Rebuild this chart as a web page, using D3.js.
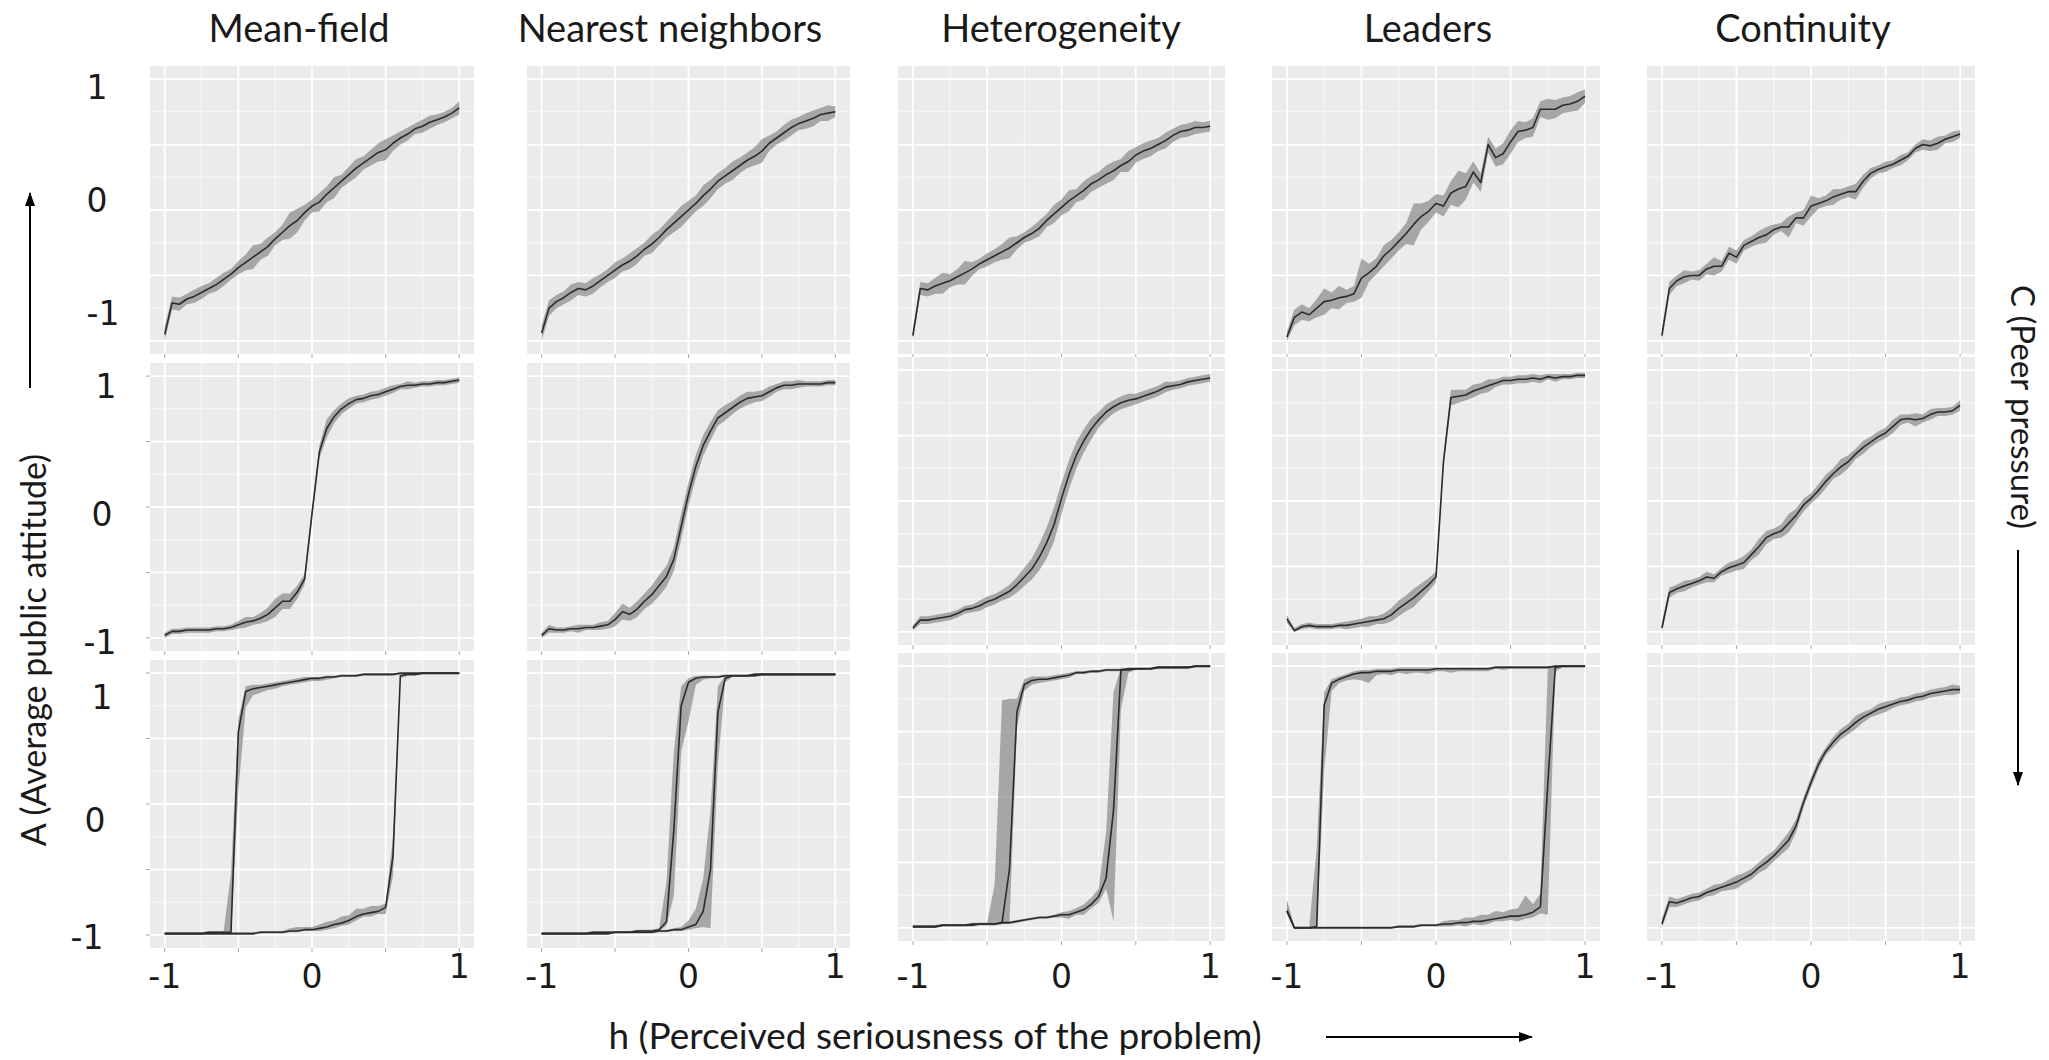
<!DOCTYPE html>
<html>
<head>
<meta charset="utf-8">
<script src="https://cdn.jsdelivr.net/npm/d3@7"></script>
<style>
  body { margin: 0; background: #fff; }
  text { font-family: Lato, "Open Sans", sans-serif; fill: #1a1a1a; }
  text.num { font-family: "DejaVu Sans", sans-serif; }
</style>
</head>
<body>
<div id="chart"></div>
<script>
// column titles (interaction models) and tick labels
var models = ["Mean-field", "Nearest neighbors", "Heterogeneity", "Leaders", "Continuity"];
var yTickLabels = ["1", "0", "-1"];
var xTickValues = [-1, 0, 1];

// h values of the sweep
var hGrid = [-1, -0.95, -0.9, -0.85, -0.8, -0.75, -0.7, -0.65, -0.6, -0.55,
  -0.5, -0.45, -0.4, -0.35, -0.3, -0.25, -0.2, -0.15, -0.1, -0.05,
  0, 0.05, 0.1, 0.15, 0.2, 0.25, 0.3, 0.35, 0.4, 0.45,
  0.5, 0.55, 0.6, 0.65, 0.7, 0.75, 0.8, 0.85, 0.9, 0.95, 1];

// ---- row 1: low peer pressure (mean A and half-width of the band)
var mf1 = [-0.95, -0.71, -0.72, -0.68, -0.66, -0.63, -0.60, -0.57, -0.53, -0.49,
  -0.44, -0.40, -0.36, -0.32, -0.28, -0.22, -0.17, -0.12, -0.08, -0.02,
  0.03, 0.06, 0.12, 0.17, 0.22, 0.27, 0.32, 0.36, 0.40, 0.44,
  0.46, 0.51, 0.55, 0.58, 0.62, 0.64, 0.67, 0.69, 0.71, 0.74, 0.78];
var mf1Band = [0.06, 0.05, 0.05, 0.04, 0.05, 0.05, 0.04, 0.05, 0.05, 0.04,
  0.05, 0.06, 0.09, 0.06, 0.07, 0.05, 0.06, 0.10, 0.09, 0.06,
  0.05, 0.07, 0.06, 0.08, 0.05, 0.06, 0.07, 0.05, 0.06, 0.07,
  0.08, 0.06, 0.05, 0.05, 0.04, 0.05, 0.05, 0.04, 0.04, 0.04, 0.05];

var nn1 = [-0.94, -0.75, -0.70, -0.67, -0.63, -0.60, -0.61, -0.58, -0.54, -0.50,
  -0.46, -0.42, -0.39, -0.35, -0.30, -0.26, -0.21, -0.15, -0.10, -0.05,
  0.00, 0.05, 0.11, 0.16, 0.22, 0.26, 0.30, 0.34, 0.38, 0.41,
  0.45, 0.51, 0.55, 0.59, 0.63, 0.66, 0.68, 0.70, 0.73, 0.74, 0.75];
var nn1Band = [0.06, 0.06, 0.05, 0.05, 0.06, 0.05, 0.05, 0.06, 0.05, 0.05,
  0.06, 0.05, 0.06, 0.06, 0.05, 0.07, 0.06, 0.06, 0.07, 0.08,
  0.07, 0.06, 0.08, 0.07, 0.06, 0.06, 0.07, 0.06, 0.06, 0.07,
  0.09, 0.06, 0.05, 0.06, 0.06, 0.05, 0.06, 0.06, 0.05, 0.06, 0.04];

var het1 = [-0.96, -0.60, -0.61, -0.58, -0.56, -0.54, -0.51, -0.48, -0.45, -0.41,
  -0.38, -0.35, -0.32, -0.29, -0.25, -0.21, -0.18, -0.14, -0.08, -0.03,
  0.02, 0.07, 0.11, 0.15, 0.20, 0.23, 0.27, 0.30, 0.34, 0.37,
  0.42, 0.45, 0.47, 0.50, 0.53, 0.57, 0.60, 0.61, 0.63, 0.63, 0.64];
var het1Band = [0.05, 0.05, 0.05, 0.06, 0.08, 0.05, 0.06, 0.09, 0.05, 0.04,
  0.05, 0.05, 0.06, 0.08, 0.05, 0.04, 0.05, 0.06, 0.05, 0.07,
  0.06, 0.08, 0.05, 0.07, 0.06, 0.06, 0.07, 0.07, 0.05, 0.08,
  0.06, 0.06, 0.06, 0.05, 0.06, 0.05, 0.05, 0.05, 0.05, 0.04, 0.04];

var lead1 = [-0.97, -0.82, -0.78, -0.80, -0.75, -0.70, -0.69, -0.67, -0.66, -0.64,
  -0.52, -0.48, -0.43, -0.35, -0.30, -0.24, -0.18, -0.11, -0.05, -0.01,
  0.05, 0.03, 0.13, 0.16, 0.18, 0.29, 0.21, 0.50, 0.40, 0.43,
  0.52, 0.60, 0.61, 0.63, 0.77, 0.77, 0.77, 0.80, 0.81, 0.83, 0.87];
var lead1Band = [0.04, 0.06, 0.06, 0.05, 0.07, 0.10, 0.06, 0.09, 0.05, 0.06,
  0.15, 0.07, 0.06, 0.08, 0.07, 0.07, 0.08, 0.16, 0.10, 0.08,
  0.07, 0.08, 0.09, 0.14, 0.10, 0.08, 0.07, 0.06, 0.07, 0.08,
  0.09, 0.08, 0.06, 0.07, 0.06, 0.08, 0.07, 0.06, 0.06, 0.07, 0.05];

var cont1 = [-0.96, -0.60, -0.54, -0.51, -0.50, -0.50, -0.45, -0.43, -0.43, -0.33,
  -0.36, -0.27, -0.24, -0.21, -0.19, -0.15, -0.13, -0.13, -0.06, -0.06,
  0.03, 0.05, 0.07, 0.10, 0.12, 0.14, 0.14, 0.22, 0.28, 0.31,
  0.33, 0.35, 0.38, 0.41, 0.47, 0.50, 0.49, 0.51, 0.54, 0.56, 0.58];
var cont1Band = [0.05, 0.05, 0.04, 0.05, 0.03, 0.04, 0.04, 0.07, 0.04, 0.05,
  0.05, 0.04, 0.04, 0.05, 0.06, 0.04, 0.03, 0.08, 0.04, 0.06,
  0.08, 0.04, 0.04, 0.06, 0.04, 0.04, 0.06, 0.05, 0.04, 0.03,
  0.04, 0.03, 0.04, 0.03, 0.03, 0.04, 0.04, 0.05, 0.03, 0.04, 0.03];

// ---- row 2: medium peer pressure
var mf2 = [-0.98, -0.95, -0.95, -0.94, -0.94, -0.94, -0.94, -0.93, -0.93, -0.92,
  -0.90, -0.88, -0.87, -0.85, -0.82, -0.77, -0.72, -0.72, -0.65, -0.55,
  -0.05, 0.42, 0.60, 0.69, 0.75, 0.79, 0.82, 0.83, 0.85, 0.86,
  0.88, 0.90, 0.92, 0.93, 0.93, 0.94, 0.94, 0.95, 0.95, 0.96, 0.97];
var mf2Band = [0.02, 0.02, 0.02, 0.02, 0.02, 0.02, 0.02, 0.02, 0.02, 0.02,
  0.03, 0.04, 0.03, 0.04, 0.05, 0.07, 0.06, 0.06, 0.05, 0.04,
  0.04, 0.05, 0.07, 0.05, 0.04, 0.04, 0.03, 0.03, 0.03, 0.03,
  0.03, 0.03, 0.02, 0.03, 0.02, 0.02, 0.02, 0.02, 0.02, 0.02, 0.02];

var nn2 = [-0.98, -0.93, -0.94, -0.94, -0.93, -0.93, -0.92, -0.92, -0.91, -0.90,
  -0.86, -0.80, -0.82, -0.78, -0.72, -0.67, -0.60, -0.53, -0.40, -0.15,
  0.10, 0.31, 0.47, 0.58, 0.68, 0.72, 0.76, 0.80, 0.83, 0.84,
  0.85, 0.88, 0.91, 0.93, 0.93, 0.94, 0.94, 0.94, 0.94, 0.95, 0.95];
var nn2Band = [0.02, 0.03, 0.02, 0.02, 0.02, 0.03, 0.02, 0.02, 0.03, 0.03,
  0.05, 0.06, 0.05, 0.06, 0.06, 0.07, 0.08, 0.08, 0.09, 0.10,
  0.09, 0.09, 0.08, 0.07, 0.06, 0.06, 0.05, 0.05, 0.05, 0.04,
  0.04, 0.04, 0.03, 0.03, 0.03, 0.03, 0.02, 0.02, 0.02, 0.02, 0.02];

var het2 = [-0.97, -0.91, -0.91, -0.90, -0.89, -0.88, -0.86, -0.83, -0.82, -0.80,
  -0.77, -0.75, -0.72, -0.69, -0.64, -0.58, -0.52, -0.43, -0.32, -0.18,
  0.02, 0.20, 0.35, 0.46, 0.55, 0.62, 0.68, 0.72, 0.75, 0.77,
  0.78, 0.80, 0.82, 0.84, 0.87, 0.88, 0.89, 0.91, 0.92, 0.93, 0.94];
var het2Band = [0.02, 0.03, 0.03, 0.03, 0.03, 0.03, 0.03, 0.03, 0.03, 0.04,
  0.04, 0.04, 0.04, 0.05, 0.06, 0.07, 0.08, 0.10, 0.12, 0.13,
  0.12, 0.11, 0.10, 0.09, 0.08, 0.06, 0.06, 0.05, 0.05, 0.05,
  0.04, 0.04, 0.04, 0.04, 0.04, 0.03, 0.03, 0.03, 0.03, 0.03, 0.03];

var lead2 = [-0.90, -0.99, -0.96, -0.95, -0.96, -0.96, -0.96, -0.95, -0.95, -0.94,
  -0.93, -0.92, -0.91, -0.90, -0.87, -0.82, -0.78, -0.74, -0.69, -0.64,
  -0.58, 0.30, 0.79, 0.80, 0.81, 0.84, 0.86, 0.88, 0.90, 0.92,
  0.92, 0.93, 0.93, 0.94, 0.93, 0.95, 0.94, 0.95, 0.95, 0.96, 0.96];
var lead2Band = [0.03, 0.02, 0.02, 0.02, 0.02, 0.02, 0.02, 0.02, 0.03, 0.03,
  0.03, 0.04, 0.03, 0.04, 0.05, 0.06, 0.06, 0.07, 0.06, 0.05,
  0.04, 0.05, 0.06, 0.05, 0.04, 0.05, 0.04, 0.05, 0.03, 0.03,
  0.03, 0.03, 0.03, 0.03, 0.03, 0.02, 0.03, 0.02, 0.02, 0.02, 0.02];

var cont2 = [-0.97, -0.70, -0.67, -0.65, -0.63, -0.61, -0.58, -0.59, -0.54, -0.51,
  -0.49, -0.47, -0.41, -0.35, -0.28, -0.25, -0.23, -0.17, -0.11, -0.03,
  0.02, 0.08, 0.15, 0.21, 0.26, 0.30, 0.36, 0.41, 0.45, 0.49,
  0.52, 0.57, 0.62, 0.63, 0.62, 0.63, 0.66, 0.68, 0.68, 0.69, 0.73];
var cont2Band = [0.04, 0.04, 0.03, 0.04, 0.03, 0.03, 0.04, 0.03, 0.03, 0.04,
  0.04, 0.05, 0.04, 0.06, 0.05, 0.04, 0.05, 0.07, 0.05, 0.05,
  0.04, 0.05, 0.05, 0.04, 0.06, 0.05, 0.04, 0.05, 0.04, 0.04,
  0.04, 0.05, 0.04, 0.03, 0.05, 0.03, 0.04, 0.03, 0.03, 0.03, 0.04];

// ---- row 3: high peer pressure, forward (lower) and backward (upper) sweeps
// band below (Lo) and above (Hi) the mean
var mf3Lower = [-0.99, -0.99, -0.99, -0.99, -0.99, -0.99, -0.99, -0.99, -0.99, -0.99,
  -0.99, -0.99, -0.99, -0.98, -0.98, -0.98, -0.98, -0.97, -0.97, -0.96,
  -0.96, -0.95, -0.94, -0.92, -0.91, -0.89, -0.86, -0.84, -0.83, -0.82,
  -0.79, -0.40, 0.98, 0.99, 0.99, 1.00, 1.00, 1.00, 1.00, 1.00, 1.00];
var mf3LowerLo = [0.01, 0.01, 0.01, 0.01, 0.01, 0.01, 0.01, 0.01, 0.01, 0.01,
  0.01, 0.01, 0.01, 0.01, 0.01, 0.01, 0.01, 0.01, 0.01, 0.01,
  0.01, 0.02, 0.02, 0.03, 0.02, 0.03, 0.03, 0.02, 0.03, 0.02,
  0.05, 0.15, 0.02, 0.01, 0.01, 0.01, 0.01, 0.01, 0.01, 0.01, 0.01];
var mf3LowerHi = [0.01, 0.01, 0.01, 0.01, 0.01, 0.01, 0.01, 0.01, 0.01, 0.01,
  0.01, 0.01, 0.01, 0.01, 0.01, 0.01, 0.01, 0.02, 0.03, 0.02,
  0.02, 0.03, 0.04, 0.03, 0.05, 0.04, 0.06, 0.04, 0.05, 0.04,
  0.03, 0.15, 0.01, 0.01, 0.01, 0.01, 0.01, 0.01, 0.01, 0.01, 0.01];
var mf3Upper = [-0.99, -0.99, -0.99, -0.99, -0.99, -0.99, -0.98, -0.98, -0.98, -0.98,
  0.55, 0.86, 0.88, 0.89, 0.90, 0.91, 0.92, 0.93, 0.94, 0.95,
  0.96, 0.96, 0.97, 0.97, 0.98, 0.98, 0.98, 0.99, 0.99, 0.99,
  0.99, 0.99, 1.00, 1.00, 1.00, 1.00, 1.00, 1.00, 1.00, 1.00, 1.00];
var mf3UpperLo = [0.01, 0.01, 0.01, 0.01, 0.01, 0.01, 0.01, 0.01, 0.01, 0.01,
  0.45, 0.12, 0.05, 0.04, 0.03, 0.03, 0.02, 0.02, 0.02, 0.02,
  0.02, 0.02, 0.02, 0.01, 0.01, 0.01, 0.01, 0.01, 0.01, 0.01,
  0.01, 0.01, 0.01, 0.01, 0.01, 0.01, 0.01, 0.01, 0.01, 0.01, 0.01];
var mf3UpperHi = [0.01, 0.01, 0.01, 0.01, 0.01, 0.01, 0.01, 0.01, 0.01, 0.45,
  0.10, 0.04, 0.03, 0.02, 0.02, 0.02, 0.02, 0.02, 0.02, 0.02,
  0.01, 0.01, 0.01, 0.01, 0.01, 0.01, 0.01, 0.01, 0.01, 0.01,
  0.01, 0.01, 0.01, 0.01, 0.01, 0.01, 0.01, 0.01, 0.01, 0.01, 0.01];

var nn3Lower = [-0.99, -0.99, -0.99, -0.99, -0.99, -0.99, -0.99, -0.99, -0.99, -0.99,
  -0.98, -0.98, -0.98, -0.98, -0.98, -0.98, -0.97, -0.97, -0.96, -0.96,
  -0.94, -0.92, -0.82, -0.50, 0.70, 0.96, 0.98, 0.98, 0.98, 0.99,
  0.99, 0.99, 0.99, 0.99, 0.99, 0.99, 0.99, 0.99, 0.99, 0.99, 0.99];
var nn3LowerLo = [0.01, 0.01, 0.01, 0.01, 0.01, 0.01, 0.01, 0.01, 0.01, 0.01,
  0.01, 0.01, 0.01, 0.01, 0.01, 0.01, 0.01, 0.01, 0.01, 0.01,
  0.02, 0.03, 0.12, 0.45, 0.40, 0.03, 0.01, 0.01, 0.01, 0.01,
  0.01, 0.01, 0.01, 0.01, 0.01, 0.01, 0.01, 0.01, 0.01, 0.01, 0.01];
var nn3LowerHi = [0.01, 0.01, 0.01, 0.01, 0.01, 0.01, 0.01, 0.01, 0.01, 0.01,
  0.01, 0.01, 0.01, 0.01, 0.01, 0.01, 0.01, 0.01, 0.01, 0.02,
  0.05, 0.12, 0.25, 0.45, 0.20, 0.02, 0.01, 0.01, 0.01, 0.01,
  0.01, 0.01, 0.01, 0.01, 0.01, 0.01, 0.01, 0.01, 0.01, 0.01, 0.01];
var nn3Upper = [-0.99, -0.99, -0.99, -0.99, -0.99, -0.99, -0.99, -0.98, -0.98, -0.98,
  -0.98, -0.98, -0.98, -0.97, -0.97, -0.97, -0.96, -0.90, -0.20, 0.75,
  0.93, 0.96, 0.97, 0.97, 0.97, 0.98, 0.98, 0.98, 0.98, 0.98,
  0.99, 0.99, 0.99, 0.99, 0.99, 0.99, 0.99, 0.99, 0.99, 0.99, 0.99];
var nn3UpperLo = [0.01, 0.01, 0.01, 0.01, 0.01, 0.01, 0.01, 0.01, 0.01, 0.01,
  0.01, 0.01, 0.01, 0.01, 0.01, 0.01, 0.01, 0.03, 0.50, 0.35,
  0.30, 0.05, 0.02, 0.01, 0.01, 0.01, 0.01, 0.01, 0.01, 0.01,
  0.01, 0.01, 0.01, 0.01, 0.01, 0.01, 0.01, 0.01, 0.01, 0.01, 0.01];
var nn3UpperHi = [0.01, 0.01, 0.01, 0.01, 0.01, 0.01, 0.01, 0.01, 0.01, 0.01,
  0.01, 0.01, 0.01, 0.01, 0.01, 0.01, 0.01, 0.30, 0.60, 0.15,
  0.03, 0.02, 0.01, 0.01, 0.01, 0.01, 0.01, 0.01, 0.01, 0.01,
  0.01, 0.01, 0.01, 0.01, 0.01, 0.01, 0.01, 0.01, 0.01, 0.01, 0.01];

var het3Lower = [-0.99, -0.99, -0.99, -0.99, -0.98, -0.98, -0.98, -0.98, -0.97, -0.97,
  -0.97, -0.97, -0.96, -0.96, -0.95, -0.94, -0.93, -0.92, -0.92, -0.91,
  -0.90, -0.90, -0.88, -0.86, -0.82, -0.76, -0.62, -0.10, 0.97, 0.97,
  0.98, 0.98, 0.98, 0.99, 0.99, 0.99, 0.99, 0.99, 1.00, 1.00, 1.00];
var het3LowerLo = [0.01, 0.01, 0.01, 0.01, 0.01, 0.01, 0.01, 0.01, 0.01, 0.01,
  0.01, 0.01, 0.01, 0.01, 0.01, 0.01, 0.01, 0.01, 0.01, 0.01,
  0.02, 0.03, 0.02, 0.04, 0.03, 0.05, 0.08, 0.85, 0.30, 0.02,
  0.01, 0.01, 0.01, 0.01, 0.01, 0.01, 0.01, 0.01, 0.01, 0.01, 0.01];
var het3LowerHi = [0.01, 0.01, 0.01, 0.01, 0.01, 0.01, 0.01, 0.01, 0.01, 0.01,
  0.01, 0.01, 0.01, 0.01, 0.01, 0.01, 0.01, 0.01, 0.01, 0.01,
  0.02, 0.03, 0.03, 0.04, 0.05, 0.06, 0.35, 0.90, 0.02, 0.01,
  0.01, 0.01, 0.01, 0.01, 0.01, 0.01, 0.01, 0.01, 0.01, 0.01, 0.01];
var het3Upper = [-0.99, -0.99, -0.99, -0.99, -0.98, -0.98, -0.98, -0.98, -0.98, -0.97,
  -0.97, -0.97, -0.96, -0.55, 0.65, 0.86, 0.89, 0.90, 0.90, 0.91,
  0.92, 0.93, 0.95, 0.95, 0.96, 0.96, 0.97, 0.97, 0.97, 0.98,
  0.98, 0.98, 0.98, 0.99, 0.99, 0.99, 0.99, 0.99, 1.00, 1.00, 1.00];
var het3UpperLo = [0.01, 0.01, 0.01, 0.01, 0.01, 0.01, 0.01, 0.01, 0.01, 0.01,
  0.01, 0.01, 0.01, 0.42, 0.12, 0.05, 0.03, 0.03, 0.02, 0.02,
  0.02, 0.02, 0.01, 0.01, 0.01, 0.01, 0.01, 0.01, 0.01, 0.01,
  0.01, 0.01, 0.01, 0.01, 0.01, 0.01, 0.01, 0.01, 0.01, 0.01, 0.01];
var het3UpperHi = [0.01, 0.01, 0.01, 0.01, 0.01, 0.01, 0.01, 0.01, 0.01, 0.01,
  0.01, 0.30, 1.70, 1.30, 0.10, 0.04, 0.03, 0.02, 0.02, 0.02,
  0.02, 0.02, 0.01, 0.01, 0.01, 0.01, 0.01, 0.01, 0.01, 0.01,
  0.01, 0.01, 0.01, 0.01, 0.01, 0.01, 0.01, 0.01, 0.01, 0.01, 0.01];

var lead3Lower = [-0.87, -1.00, -1.00, -1.00, -1.00, -1.00, -1.00, -1.00, -1.00, -1.00,
  -1.00, -1.00, -1.00, -1.00, -1.00, -0.99, -0.99, -0.99, -0.98, -0.98,
  -0.98, -0.97, -0.97, -0.96, -0.96, -0.95, -0.95, -0.94, -0.93, -0.92,
  -0.91, -0.91, -0.90, -0.88, -0.84, 0.10, 0.99, 1.00, 1.00, 1.00, 1.00];
var lead3LowerLo = [0.02, 0.01, 0.01, 0.01, 0.01, 0.01, 0.01, 0.01, 0.01, 0.01,
  0.01, 0.01, 0.01, 0.01, 0.01, 0.01, 0.01, 0.01, 0.01, 0.01,
  0.01, 0.02, 0.02, 0.02, 0.03, 0.02, 0.03, 0.03, 0.02, 0.03,
  0.03, 0.04, 0.03, 0.04, 0.05, 1.00, 0.03, 0.01, 0.01, 0.01, 0.01];
var lead3LowerHi = [0.08, 0.01, 0.01, 0.01, 0.01, 0.01, 0.01, 0.01, 0.01, 0.01,
  0.01, 0.01, 0.01, 0.01, 0.01, 0.01, 0.01, 0.01, 0.01, 0.01,
  0.01, 0.02, 0.03, 0.02, 0.04, 0.03, 0.05, 0.04, 0.06, 0.04,
  0.05, 0.06, 0.15, 0.06, 0.10, 0.90, 0.01, 0.01, 0.01, 0.01, 0.01];
var lead3Upper = [-0.87, -1.00, -1.00, -1.00, -0.99, 0.70, 0.87, 0.90, 0.92, 0.94,
  0.95, 0.95, 0.96, 0.96, 0.96, 0.97, 0.97, 0.97, 0.97, 0.97,
  0.98, 0.98, 0.98, 0.98, 0.98, 0.98, 0.98, 0.98, 0.99, 0.99,
  0.99, 0.99, 0.99, 0.99, 0.99, 0.99, 1.00, 1.00, 1.00, 1.00, 1.00];
var lead3UpperLo = [0.01, 0.01, 0.01, 0.01, 0.01, 0.50, 0.06, 0.03, 0.03, 0.04,
  0.06, 0.08, 0.03, 0.02, 0.03, 0.02, 0.03, 0.02, 0.02, 0.03,
  0.02, 0.02, 0.03, 0.02, 0.02, 0.02, 0.02, 0.02, 0.01, 0.02,
  0.01, 0.01, 0.01, 0.01, 0.01, 0.01, 0.01, 0.01, 0.01, 0.01, 0.01];
var lead3UpperHi = [0.08, 0.01, 0.01, 0.01, 0.60, 0.10, 0.03, 0.02, 0.02, 0.02,
  0.02, 0.02, 0.02, 0.02, 0.02, 0.02, 0.02, 0.02, 0.02, 0.02,
  0.01, 0.01, 0.01, 0.01, 0.01, 0.01, 0.01, 0.01, 0.01, 0.01,
  0.01, 0.01, 0.01, 0.01, 0.01, 0.01, 0.01, 0.01, 0.01, 0.01, 0.01];

var cont3 = [-0.97, -0.80, -0.81, -0.79, -0.77, -0.76, -0.73, -0.71, -0.69, -0.67,
  -0.65, -0.62, -0.59, -0.54, -0.50, -0.45, -0.39, -0.33, -0.22, -0.04,
  0.11, 0.25, 0.35, 0.42, 0.48, 0.52, 0.57, 0.61, 0.64, 0.67,
  0.69, 0.71, 0.73, 0.74, 0.76, 0.77, 0.79, 0.80, 0.81, 0.82, 0.82];
var cont3Band = [0.04, 0.04, 0.03, 0.03, 0.03, 0.03, 0.03, 0.04, 0.03, 0.04,
  0.05, 0.04, 0.04, 0.04, 0.05, 0.04, 0.05, 0.06, 0.05, 0.04,
  0.04, 0.04, 0.03, 0.04, 0.04, 0.04, 0.05, 0.04, 0.03, 0.04,
  0.04, 0.03, 0.03, 0.03, 0.03, 0.03, 0.03, 0.03, 0.03, 0.04, 0.03];

// ---- layout of the pasted panels
var W = 2049, H = 1060;
var colLeft = [150, 527, 898, 1272, 1647];
var colWidth = [324, 323, 327, 328, 328];
var rowTopLeft = [66, 363, 660];   // columns 1-2
var rowTopRight = [66, 357, 653];  // columns 3-5
var panelHeight = 288;
var titleX = [299, 670, 1061, 1428, 1803];
var yLabelX = [[97, 97, 103], [106, 102, 100], [102, 95, 87]];
var yLabelY = [[87, 200, 313], [386, 514, 642], [697, 820, 937]];
var xLabelBaseline = [988, 988, 978];

function sym(mean, band) { return { mean: mean, lo: band, hi: band }; }

var panels = [
  [[sym(mf1, mf1Band)], [sym(nn1, nn1Band)], [sym(het1, het1Band)], [sym(lead1, lead1Band)], [sym(cont1, cont1Band)]],
  [[sym(mf2, mf2Band)], [sym(nn2, nn2Band)], [sym(het2, het2Band)], [sym(lead2, lead2Band)], [sym(cont2, cont2Band)]],
  [
    [{ mean: mf3Lower, lo: mf3LowerLo, hi: mf3LowerHi }, { mean: mf3Upper, lo: mf3UpperLo, hi: mf3UpperHi }],
    [{ mean: nn3Lower, lo: nn3LowerLo, hi: nn3LowerHi }, { mean: nn3Upper, lo: nn3UpperLo, hi: nn3UpperHi }],
    [{ mean: het3Lower, lo: het3LowerLo, hi: het3LowerHi }, { mean: het3Upper, lo: het3UpperLo, hi: het3UpperHi }],
    [{ mean: lead3Lower, lo: lead3LowerLo, hi: lead3LowerHi }, { mean: lead3Upper, lo: lead3UpperLo, hi: lead3UpperHi }],
    [sym(cont3, cont3Band)]
  ]
];

var majorBreaks = [-1, -0.5, 0, 0.5, 1];
var minorBreaks = [-0.75, -0.25, 0.25, 0.75];

var svg = d3.select("#chart").append("svg")
  .attr("width", W)
  .attr("height", H);

svg.append("rect").attr("width", W).attr("height", H).attr("fill", "#fff");

var defs = svg.append("defs");
defs.append("marker")
  .attr("id", "arrow")
  .attr("viewBox", "0 0 14 10")
  .attr("refX", 13).attr("refY", 5)
  .attr("markerWidth", 14).attr("markerHeight", 10)
  .attr("markerUnits", "userSpaceOnUse")
  .attr("orient", "auto")
  .append("path").attr("d", "M0,0L14,5L0,10Z").attr("fill", "#000");

var clamp = function (v) { return Math.max(-1, Math.min(1, v)); };

panels.forEach(function (row, r) {
  row.forEach(function (series, c) {
    var left = colLeft[c];
    var top = (c < 2 ? rowTopLeft : rowTopRight)[r];
    var w = colWidth[c];

    var x = d3.scaleLinear().domain([-1.1, 1.1]).range([0, w]);
    var y = d3.scaleLinear().domain([-1.1, 1.1]).range([panelHeight, 0]);

    var g = svg.append("g").attr("transform", "translate(" + left + "," + top + ")");

    g.append("rect")
      .attr("width", w).attr("height", panelHeight)
      .attr("fill", "#ebebeb");

    // grid
    g.selectAll(".vminor").data(minorBreaks).enter().append("line")
      .attr("x1", d => x(d)).attr("x2", d => x(d))
      .attr("y1", 0).attr("y2", panelHeight)
      .attr("stroke", "#fafafa").attr("stroke-width", 0.9);
    g.selectAll(".hminor").data(minorBreaks).enter().append("line")
      .attr("y1", d => y(d)).attr("y2", d => y(d))
      .attr("x1", 0).attr("x2", w)
      .attr("stroke", "#fafafa").attr("stroke-width", 0.9);
    g.selectAll(".vmajor").data(majorBreaks).enter().append("line")
      .attr("x1", d => x(d)).attr("x2", d => x(d))
      .attr("y1", 0).attr("y2", panelHeight)
      .attr("stroke", "#fff").attr("stroke-width", 1.8);
    g.selectAll(".hmajor").data(majorBreaks).enter().append("line")
      .attr("y1", d => y(d)).attr("y2", d => y(d))
      .attr("x1", 0).attr("x2", w)
      .attr("stroke", "#fff").attr("stroke-width", 1.8);

    // little axis ticks
    g.selectAll(".xtick").data(majorBreaks).enter().append("line")
      .attr("x1", d => x(d)).attr("x2", d => x(d))
      .attr("y1", panelHeight).attr("y2", panelHeight + 4)
      .attr("stroke", "#aaa").attr("stroke-width", 1);
    if (c === 0 && r > 0) {
      g.selectAll(".ytick").data(majorBreaks).enter().append("line")
        .attr("y1", d => y(d)).attr("y2", d => y(d))
        .attr("x1", -4).attr("x2", 0)
        .attr("stroke", "#aaa").attr("stroke-width", 1);
    }

    var area = d3.area()
      .x((d, i) => x(hGrid[i]))
      .y0(d => y(clamp(d.m - d.lo)))
      .y1(d => y(clamp(d.m + d.hi)));
    var line = d3.line()
      .x((d, i) => x(hGrid[i]))
      .y(d => y(d.m));

    var rows = series.map(s => s.mean.map((m, i) => ({ m: m, lo: s.lo[i], hi: s.hi[i] })));

    g.selectAll(".band").data(rows).enter().append("path")
      .attr("d", area)
      .attr("fill", "#8f8f8f")
      .attr("fill-opacity", 0.75);
    g.selectAll(".mean").data(rows).enter().append("path")
      .attr("d", line)
      .attr("fill", "none")
      .attr("stroke", "#2b2b2b")
      .attr("stroke-width", 1.6)
      .attr("stroke-linejoin", "round");

    // x labels under the bottom row
    if (r === 2) {
      svg.selectAll(null).data(xTickValues).enter().append("text")
        .attr("class", "num")
        .attr("x", d => left + x(d))
        .attr("y", (d, i) => xLabelBaseline[i])
        .attr("text-anchor", "middle")
        .attr("font-size", 33)
        .text(d => d);
    }
  });
});

// column titles
svg.selectAll(".title").data(models).enter().append("text")
  .attr("x", (d, i) => titleX[i])
  .attr("y", 42)
  .attr("text-anchor", "middle")
  .attr("font-size", 38)
  .text(d => d);

// hand-placed y labels
yLabelY.forEach(function (ys, r) {
  svg.selectAll(null).data(yTickLabels).enter().append("text")
    .attr("class", "num")
    .attr("x", (d, i) => yLabelX[r][i])
    .attr("y", (d, i) => ys[i])
    .attr("dy", "0.36em")
    .attr("text-anchor", "middle")
    .attr("font-size", 33)
    .text(d => d);
});

// axis titles and arrows
svg.append("text")
  .attr("transform", "translate(46,650) rotate(-90)")
  .attr("text-anchor", "middle")
  .attr("font-size", 34)
  .text("A (Average public attitude)");
svg.append("line")
  .attr("x1", 30).attr("x2", 30).attr("y1", 388).attr("y2", 193)
  .attr("stroke", "#000").attr("stroke-width", 2)
  .attr("marker-end", "url(#arrow)");

svg.append("text")
  .attr("transform", "translate(2011,407) rotate(90)")
  .attr("text-anchor", "middle")
  .attr("font-size", 33)
  .text("C (Peer pressure)");
svg.append("line")
  .attr("x1", 2018).attr("x2", 2018).attr("y1", 550).attr("y2", 785)
  .attr("stroke", "#000").attr("stroke-width", 2)
  .attr("marker-end", "url(#arrow)");

svg.append("text")
  .attr("x", 935).attr("y", 1049)
  .attr("text-anchor", "middle")
  .attr("font-size", 37)
  .text("h (Perceived seriousness of the problem)");
svg.append("line")
  .attr("x1", 1326).attr("x2", 1532).attr("y1", 1037).attr("y2", 1037)
  .attr("stroke", "#000").attr("stroke-width", 2)
  .attr("marker-end", "url(#arrow)");
</script>
</body>
</html>
